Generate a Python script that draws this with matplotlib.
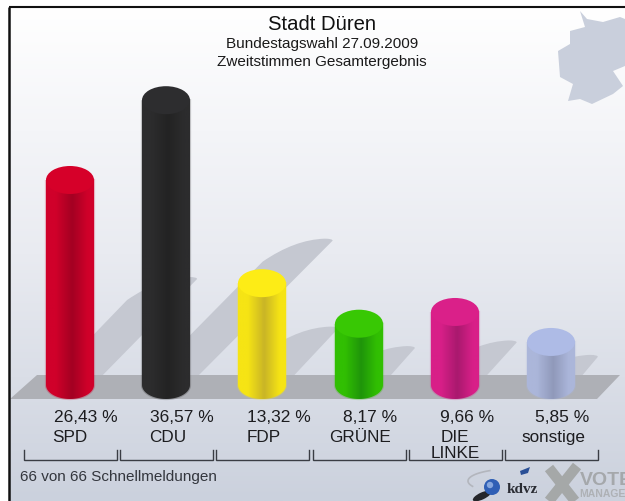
import numpy as np
import matplotlib
matplotlib.use('Agg')
import matplotlib.pyplot as plt
from matplotlib.colors import LinearSegmentedColormap
from matplotlib.patches import Ellipse, Polygon, PathPatch, Circle
from matplotlib.path import Path

plt.rcParams['font.family'] = ['Liberation Sans', 'DejaVu Sans']

parties = ['SPD', 'CDU', 'FDP', 'GRÜNE', 'DIE\nLINKE', 'sonstige']
values = [26.43, 36.57, 13.32, 8.17, 9.66, 5.85]
value_labels = ['26,43 %', '36,57 %', '13,32 %', '8,17 %', '9,66 %', '5,85 %']
edge_colors = ['#d0002a', '#2c2c2d', '#f6e414', '#31bf02', '#d81f88', '#abb6da']
mid_colors = ['#a30022', '#232323', '#c9b526', '#1f950a', '#a9196e', '#9099ba']
cap_colors = ['#d60029', '#2d2d2f', '#fdec16', '#38c804', '#da2089', '#aebbe6']

# pixel layout of the picture
centers = [70, 166, 262, 359, 455, 551]
value_x = [86, 182, 279, 370, 467, 562]
name_x = [70, 168, 264, 360, 455, 553]
half_w = 24
base_y = 386
px_per_pct = 7.87
shadow_per_pct = 3.9

fig = plt.figure(figsize=(6.25, 5.02), dpi=100, facecolor='white')
ax = fig.add_axes([0, 0, 1, 1])

# background
bg = LinearSegmentedColormap.from_list('bg', ['#ffffff', '#e9ebf1', '#cbd1dd'])
ax.imshow(np.linspace(0, 1, 256).reshape(-1, 1), cmap=bg, extent=(9, 625, 502, 8), aspect='auto', zorder=0)

# map of Germany in the corner
germany = [(580, 12), (587, 20), (603, 23), (620, 18), (625, 20), (625, 67), (613, 72), (623, 87),
           (613, 95), (592, 105), (580, 100), (568, 102), (573, 85), (560, 78), (558, 52), (570, 45),
           (570, 32), (585, 28)]
ax.add_patch(Polygon(germany, closed=True, fc='#c9cfdc', ec='none', zorder=1))

# slanted shadows behind the bars
for cx, v in zip(centers, values):
    d = v * shadow_per_pct
    tx, ty = cx + half_w + d, 380 - 0.97 * d
    verts = [(cx - half_w, 385), (tx - 70, ty + 21), (tx - 38, ty - 1), (tx - 8, ty - 2),
             (tx, ty - 2), (tx, ty), (cx + half_w, 385), (cx - half_w, 385)]
    codes = [Path.MOVETO, Path.LINETO, Path.CURVE3, Path.CURVE3, Path.CURVE3, Path.CURVE3, Path.LINETO, Path.CLOSEPOLY]
    ax.add_patch(PathPatch(Path(verts, codes), fc='#c5c8d1', ec='none', zorder=2))

# floor
ax.add_patch(Polygon([(10, 400), (37, 376), (620, 376), (597, 400)], closed=True, fc='#aeb0b6', ec='none', zorder=3))

# cylinders
arc = np.linspace(0, np.pi, 40)
for cx, v, ec, mc, tc in zip(centers, values, edge_colors, mid_colors, cap_colors):
    top = base_y - v * px_per_pct + 3
    cm = LinearSegmentedColormap.from_list('c', [(0, ec), (0.2, ec), (0.55, mc), (0.88, ec), (1, ec)])
    outline = [(cx - half_w, top), (cx + half_w, top)]
    outline += [(cx + half_w * np.cos(a), base_y + 14 * np.sin(a)) for a in arc]
    outline += [(cx - half_w, top)]
    clip = Path(outline)
    ax.add_patch(PathPatch(clip, fc='none', ec=ec, lw=1.6, alpha=0.25, zorder=4))
    im = ax.imshow(np.linspace(0, 1, 64).reshape(1, -1), cmap=cm, extent=(cx - half_w, cx + half_w, base_y + 14, top),
                   aspect='auto', zorder=5)
    im.set_clip_path(clip, transform=ax.transData)
    ax.add_patch(Ellipse((cx, top), 2 * half_w, 28, fc=tc, ec='none', zorder=6))

# brackets under the labels
for cx in centers:
    ax.plot([cx - 46, cx - 46, cx + 47, cx + 47], [451, 460.5, 460.5, 451], color='#3a3d44', lw=1.0, zorder=7,
            solid_joinstyle='miter')

# texts
ax.text(322, 24, 'Stadt Düren', ha='center', va='center', fontsize=14.6, color='#111111')
ax.text(322, 44, 'Bundestagswahl 27.09.2009', ha='center', va='center', fontsize=11, color='#1a1a1a')
ax.text(322, 62, 'Zweitstimmen Gesamtergebnis', ha='center', va='center', fontsize=11, color='#1a1a1a')
for x, s in zip(value_x, value_labels):
    ax.text(x, 418, s, ha='center', va='center', fontsize=12.5, color='#1c1c1f')
for x, s in zip(name_x, parties):
    if '\n' in s:
        a, b = s.split('\n')
        ax.text(x, 438, a, ha='center', va='center', fontsize=12.3, color='#1c1c1f')
        ax.text(x, 454, b, ha='center', va='center', fontsize=12.3, color='#1c1c1f')
    else:
        ax.text(x, 438, s, ha='center', va='center', fontsize=12.3, color='#1c1c1f')
ax.text(20, 477, '66 von 66 Schnellmeldungen', ha='left', va='center', fontsize=11, color='#33363d')

# logos in the corner
t = np.linspace(2.1, 3.6, 40)
ax.plot(512 + 44 * np.cos(t), 482 - 12 * np.sin(t), color='#b3b6bd', lw=1.2, zorder=7)
ax.add_patch(Ellipse((482, 497), 20, 7, angle=-25, fc='#25262a', ec='none', zorder=7))
ax.add_patch(Circle((492, 488), 8, fc='#2f5fb5', ec='none', zorder=8))
ax.add_patch(Circle((490, 486), 3.2, fc='#86a6dd', ec='none', zorder=9))
ax.add_patch(Polygon([(520, 472), (530, 468), (528, 474), (521, 476)], closed=True, fc='#2a4f96', ec='none', zorder=8))
ax.text(507, 490, 'kdvz', ha='left', va='center', fontsize=11, family='Liberation Serif', weight='bold', color='#2a2c33')
ax.plot([549, 575], [469, 502], color='#a5a8a8', lw=7.5, zorder=7, solid_capstyle='butt')
ax.plot([577, 549], [467, 502], color='#a5a8a8', lw=7.5, zorder=7, solid_capstyle='butt')
ax.text(580, 481, 'VOTE', ha='left', va='center', fontsize=14, family='Liberation Sans', weight='bold', color='#a5a8ab', clip_on=True)
ax.text(579, 494, 'MANAGER', ha='left', va='center', fontsize=7.5, weight='bold', color='#aeb1b5', clip_on=True)

# frame on the left and the top only
ax.plot([9, 9], [502, 7.5], color='#111111', lw=1.8, zorder=10, solid_capstyle='butt')
ax.plot([9, 625], [7.5, 7.5], color='#111111', lw=1.5, zorder=10, solid_capstyle='butt')

ax.set_xlim(0, 625)
ax.set_ylim(502, 0)
ax.axis('off')
fig.savefig('out.png', dpi=100)
